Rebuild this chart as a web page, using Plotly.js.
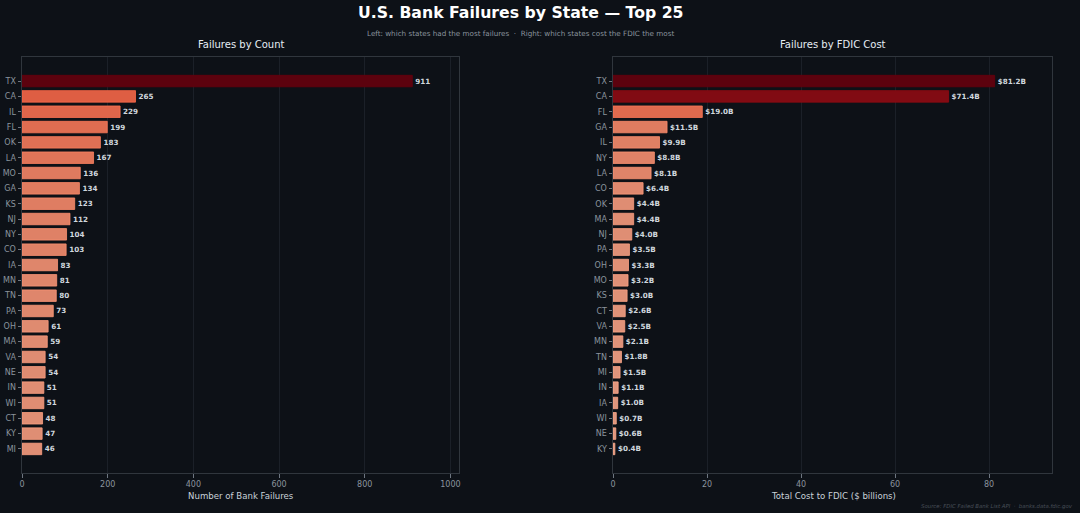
<!DOCTYPE html>
<html>
<head>
<meta charset="utf-8">
<script src="https://cdn.plot.ly/plotly-3.0.1.min.js"></script>
<style>
html,body{margin:0;padding:0;background:#0d1117;}
#chart{width:1080px;height:513px;}
</style>
</head>
<body>
<div id="chart"></div>
<script>
// ---- data ----
const countStates = ["TX","CA","IL","FL","OK","LA","MO","GA","KS","NJ","NY","CO","IA","MN","TN","PA","OH","MA","VA","NE","IN","WI","CT","KY","MI"];
const countValues = [911,265,229,199,183,167,136,134,123,112,104,103,83,81,80,73,61,59,54,54,51,51,48,47,46];
const costStates = ["TX","CA","FL","GA","IL","NY","LA","CO","OK","MA","NJ","PA","OH","MO","KS","CT","VA","MN","TN","MI","IN","IA","WI","NE","KY"];
const costValues = [81.2,71.4,19.0,11.5,9.9,8.8,8.1,6.4,4.4,4.4,4.0,3.5,3.3,3.2,3.0,2.6,2.5,2.1,1.8,1.5,1.1,1.0,0.7,0.6,0.4];
const countTicks = [0,200,400,600,800,1000];
const costTicks = [0,20,40,60,80];

// ---- colour helpers (Reds colormap) ----
const REDS = [[255,245,240],[254,224,210],[252,187,161],[252,146,114],[251,106,74],[239,59,44],[203,24,29],[165,15,21],[103,0,13]];
const BG = [13,17,23];
function reds(t){
  t = Math.max(0, Math.min(1, t));
  const p = t*(REDS.length-1), i = Math.min(Math.floor(p), REDS.length-2), f = p - i;
  return REDS[i].map((c,k)=> c + (REDS[i+1][k]-c)*f);
}
function blend(c, a){ return c.map((v,k)=> Math.round(v*a + BG[k]*(1-a))); }
function rgb(c){ return "rgb("+c.join(",")+")"; }
function colorsFor(vals){
  const mx = Math.max(...vals);
  return vals.map(v => rgb(blend(reds(0.3 + 0.7*v/mx), 0.88)));
}
function edgesFor(vals){
  const mx = Math.max(...vals);
  return vals.map(v => rgb(blend(reds(0.3 + 0.7*v/mx), 1.0)));
}

const textFont = {family:"DejaVu Sans", size:7.2, color:"#d0d7de"};

const traces = [
  {
    type:"bar", orientation:"h", x:countValues, y:countStates, xaxis:"x", yaxis:"y",
    marker:{color:colorsFor(countValues), line:{color:edgesFor(countValues), width:0.8}},
    width:0.75,
    text:countValues.map(v=>"<b>"+v+"</b>"), textposition:"outside", cliponaxis:false,
    textfont:textFont, hoverinfo:"x+y"
  },
  {
    type:"bar", orientation:"h", x:costValues, y:costStates, xaxis:"x2", yaxis:"y2",
    marker:{color:colorsFor(costValues), line:{color:edgesFor(costValues), width:0.8}},
    width:0.75,
    text:costValues.map(v=>"<b>$"+v.toFixed(1)+"B</b>"), textposition:"outside", cliponaxis:false,
    textfont:textFont, hoverinfo:"x+y"
  }
];

const axCommon = {
  showline:true, linecolor:"#30363d", linewidth:1, mirror:true,
  gridcolor:"#1b2028", gridwidth:1, zeroline:false,
  ticks:"outside", ticklen:3.5, tickcolor:"#6e7681",
  tickfont:{family:"DejaVu Sans", size:8, color:"#8b949e"},
  automargin:false, fixedrange:true
};
const yCommon = Object.assign({}, axCommon, {
  type:"category", showgrid:false, range:[24+1.57, -1.57]
});
const axTitleFont = {family:"DejaVu Sans", size:8.6, color:"#c9d1d9"};

const layout = {
  width:1080, height:513,
  paper_bgcolor:"#0d1117", plot_bgcolor:"#0d1117",
  margin:{l:0,r:0,t:0,b:0},
  showlegend:false, bargap:0.25,
  font:{family:"DejaVu Sans", color:"#c9d1d9"},
  xaxis: Object.assign({}, axCommon, {
    domain:[22/1080, 459/1080], anchor:"y", range:[0,1020], tickvals:countTicks
  }),
  yaxis: Object.assign({}, yCommon, {domain:[40/513, 456/513], anchor:"x"}),
  xaxis2: Object.assign({}, axCommon, {
    domain:[613/1080, 1052/1080], anchor:"y2", range:[0,93.4], tickvals:costTicks
  }),
  yaxis2: Object.assign({}, yCommon, {domain:[40/513, 456/513], anchor:"x2"}),
  annotations:[
    {text:"<b>U.S. Bank Failures by State — Top 25</b>", xref:"paper", yref:"paper", x:520/1080, y:1-12/513,
     xanchor:"center", yanchor:"middle", showarrow:false, font:{family:"DejaVu Sans", size:15.7, color:"#ffffff"}},
    {text:"Left: which states had the most failures  ·  Right: which states cost the FDIC the most", xref:"paper", yref:"paper",
     x:520/1080, y:1-33/513, xanchor:"center", yanchor:"middle", showarrow:false, font:{family:"DejaVu Sans", size:7.2, color:"#8b949e"}},
    {text:"Failures by Count", xref:"paper", yref:"paper", x:241/1080, y:1-44/513,
     xanchor:"center", yanchor:"middle", showarrow:false, font:{family:"DejaVu Sans", size:10, color:"#e6edf3"}},
    {text:"Failures by FDIC Cost", xref:"paper", yref:"paper", x:833/1080, y:1-44/513,
     xanchor:"center", yanchor:"middle", showarrow:false, font:{family:"DejaVu Sans", size:10, color:"#e6edf3"}},
    {text:"Number of Bank Failures", xref:"paper", yref:"paper", x:241/1080, y:1-496/513,
     xanchor:"center", yanchor:"middle", showarrow:false, font:axTitleFont},
    {text:"Total Cost to FDIC ($ billions)", xref:"paper", yref:"paper", x:833/1080, y:1-496/513,
     xanchor:"center", yanchor:"middle", showarrow:false, font:axTitleFont},
    {text:"<i>Source: FDIC Failed Bank List API  ·  banks.data.fdic.gov</i>", xref:"paper", yref:"paper", x:1-5/1080, y:1-506/513,
     xanchor:"right", yanchor:"middle", showarrow:false, font:{family:"DejaVu Sans", size:5.4, color:"#484f58"}}
  ]
};

Plotly.newPlot("chart", traces, layout, {displayModeBar:false, staticPlot:true});
</script>
</body>
</html>
